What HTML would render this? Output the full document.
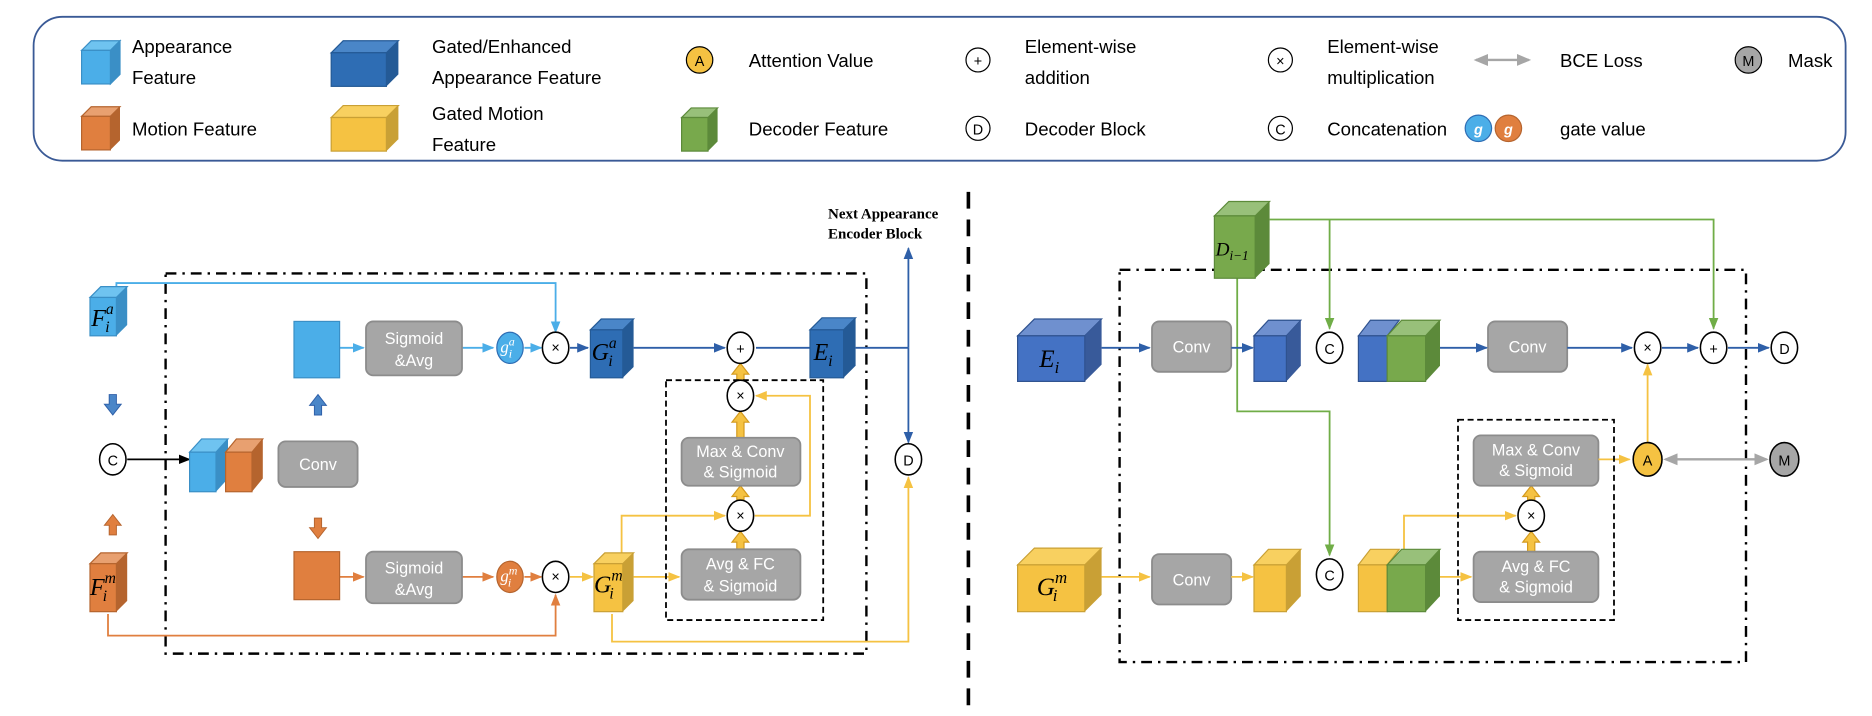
<!DOCTYPE html>
<html><head><meta charset="utf-8"><style>
html,body{margin:0;padding:0;background:#fff;}
svg{display:block;}
text{font-family:"Liberation Sans Narrow","Liberation Sans",sans-serif;}
.lg{font-size:15.5px;fill:#000;}
.bx{font-size:13.5px;fill:#fff;text-anchor:middle;}
.m{font-family:"Liberation Serif",serif;font-style:italic;fill:#000;}
.op{font-size:12px;text-anchor:middle;fill:#000;}
</style></head><body>
<svg width="1872" height="716" viewBox="0 0 1560 597" preserveAspectRatio="none" xmlns="http://www.w3.org/2000/svg">
<defs>
<marker id="ab" markerWidth="10" markerHeight="10" refX="9" refY="5" orient="auto" markerUnits="userSpaceOnUse"><path d="M0,1 L10,5 L0,9z" fill="#2e5fa8"/></marker>
<marker id="alb" markerWidth="10" markerHeight="10" refX="9" refY="5" orient="auto" markerUnits="userSpaceOnUse"><path d="M0,1 L10,5 L0,9z" fill="#4baee8"/></marker>
<marker id="ao" markerWidth="10" markerHeight="10" refX="9" refY="5" orient="auto" markerUnits="userSpaceOnUse"><path d="M0,1 L10,5 L0,9z" fill="#e07f3f"/></marker>
<marker id="ay" markerWidth="10" markerHeight="10" refX="9" refY="5" orient="auto" markerUnits="userSpaceOnUse"><path d="M0,1 L10,5 L0,9z" fill="#f5c242"/></marker>
<marker id="ag" markerWidth="10" markerHeight="10" refX="9" refY="5" orient="auto" markerUnits="userSpaceOnUse"><path d="M0,1 L10,5 L0,9z" fill="#70ad47"/></marker>
<marker id="ak" markerWidth="10" markerHeight="10" refX="9" refY="5" orient="auto" markerUnits="userSpaceOnUse"><path d="M0,1 L10,5 L0,9z" fill="#000"/></marker>
<marker id="agr" markerWidth="12" markerHeight="12" refX="10" refY="6" orient="auto-start-reverse" markerUnits="userSpaceOnUse"><path d="M0,1 L12,6 L0,11z" fill="#a6a6a6"/></marker>
</defs>

<!-- Legend -->
<rect x="28" y="14" width="1510" height="120" rx="24" fill="#fff" stroke="#3a5a96" stroke-width="1.5"/>
<g stroke-width="1">
<polygon points="68,42 76,34 100,34 92,42" fill="#6fc3f0" stroke="#3a8fc6"/><polygon points="92,42 100,34 100,62 92,70" fill="#3a8fc6" stroke="#3a8fc6"/><rect x="68" y="42" width="24" height="28" fill="#4baee8" stroke="#3a8fc6"/>
<polygon points="276,44 286,34 332,34 322,44" fill="#4a86c8" stroke="#245a96"/><polygon points="322,44 332,34 332,62 322,72" fill="#245a96"/><rect x="276" y="44" width="46" height="28" fill="#2e6db4" stroke="#245a96"/>
<polygon points="68,97 76,89 100,89 92,97" fill="#e8a070" stroke="#b5642e"/><polygon points="92,97 100,89 100,117 92,125" fill="#b5642e"/><rect x="68" y="97" width="24" height="28" fill="#e07f3f" stroke="#b5642e"/>
<polygon points="276,98 286,88 332,88 322,98" fill="#f8d060" stroke="#c9a035"/><polygon points="322,98 332,88 332,116 322,126" fill="#c9a035"/><rect x="276" y="98" width="46" height="28" fill="#f5c242" stroke="#c9a035"/>
<polygon points="568,98 576,90 598,90 590,98" fill="#98c07a" stroke="#5c8a3a"/><polygon points="590,98 598,90 598,118 590,126" fill="#5c8a3a"/><rect x="568" y="98" width="22" height="28" fill="#78a94c" stroke="#5c8a3a"/>
</g>
<text class="lg" x="110" y="44">Appearance</text><text class="lg" x="110" y="70">Feature</text>
<text class="lg" x="360" y="44">Gated/Enhanced</text><text class="lg" x="360" y="70">Appearance Feature</text>
<text class="lg" x="110" y="113">Motion Feature</text>
<text class="lg" x="360" y="100">Gated Motion</text><text class="lg" x="360" y="126">Feature</text>
<circle cx="583" cy="50" r="11" fill="#f5c242" stroke="#000"/><text class="op" x="583" y="55">A</text>
<text class="lg" x="624" y="56">Attention Value</text>
<text class="lg" x="624" y="113">Decoder  Feature</text>
<circle cx="815" cy="50" r="10" fill="#fff" stroke="#000"/><text class="op" x="815" y="55">+</text>
<text class="lg" x="854" y="44">Element-wise</text><text class="lg" x="854" y="70">addition</text>
<circle cx="815" cy="107" r="10" fill="#fff" stroke="#000"/><text class="op" x="815" y="112">D</text>
<text class="lg" x="854" y="113">Decoder  Block</text>
<circle cx="1067" cy="50" r="10" fill="#fff" stroke="#000"/><text class="op" x="1067" y="55">×</text>
<text class="lg" x="1106" y="44">Element-wise</text><text class="lg" x="1106" y="70">multiplication</text>
<circle cx="1067" cy="107" r="10" fill="#fff" stroke="#000"/><text class="op" x="1067" y="112">C</text>
<text class="lg" x="1106" y="113">Concatenation</text>
<line x1="1230" y1="50" x2="1274" y2="50" stroke="#a6a6a6" stroke-width="2" marker-start="url(#agr)" marker-end="url(#agr)"/>
<text class="lg" x="1300" y="56">BCE Loss</text>
<circle cx="1457" cy="50" r="11" fill="#a6a6a6" stroke="#000"/><text class="op" x="1457" y="55">M</text>
<text class="lg" x="1490" y="56">Mask</text>
<circle cx="1232" cy="107" r="11" fill="#4baee8" stroke="#2e6db4"/><text x="1232" y="112" class="op" style="fill:#fff;font-style:italic;font-weight:bold">g</text>
<circle cx="1257" cy="107" r="11" fill="#e07f3f" stroke="#b5642e"/><text x="1257" y="112" class="op" style="fill:#fff;font-style:italic;font-weight:bold">g</text>
<text class="lg" x="1300" y="113">gate value</text>

<line x1="807" y1="160" x2="807" y2="597" stroke="#000" stroke-width="3" stroke-dasharray="14,9"/>

<!-- LEFT -->
<rect x="138" y="228" width="584" height="317" fill="none" stroke="#000" stroke-width="2" stroke-dasharray="9,5,2,5"/>
<text x="690" y="182" style="font-family:'Liberation Serif',serif;font-weight:bold;font-size:12.5px">Next Appearance</text>
<text x="690" y="199" style="font-family:'Liberation Serif',serif;font-weight:bold;font-size:12.5px">Encoder Block</text>

<polyline points="97,240 97,236 463,236 463,277" fill="none" stroke="#4baee8" stroke-width="1.5" marker-end="url(#alb)"/>
<polyline points="90,512 90,530 463,530 463,496" fill="none" stroke="#e07f3f" stroke-width="1.5" marker-end="url(#ao)"/>
<polyline points="510,512 510,535 757,535 757,398" fill="none" stroke="#f5c242" stroke-width="1.5" marker-end="url(#ay)"/>
<line x1="713" y1="290" x2="757" y2="290" stroke="#2e5fa8" stroke-width="1.5"/>
<line x1="757" y1="290" x2="757" y2="207" stroke="#2e5fa8" stroke-width="1.5" marker-end="url(#ab)"/>
<line x1="757" y1="290" x2="757" y2="369" stroke="#2e5fa8" stroke-width="1.5" marker-end="url(#ab)"/>
<line x1="528" y1="290" x2="604" y2="290" stroke="#2e5fa8" stroke-width="1.5" marker-end="url(#ab)"/>
<line x1="630" y1="290" x2="675" y2="290" stroke="#2e5fa8" stroke-width="1.5"/>
<line x1="475" y1="290" x2="490" y2="290" stroke="#2e5fa8" stroke-width="1.5" marker-end="url(#ab)"/>
<line x1="283" y1="290" x2="303" y2="290" stroke="#4baee8" stroke-width="1.5" marker-end="url(#alb)"/>
<line x1="385" y1="290" x2="411" y2="290" stroke="#4baee8" stroke-width="1.5" marker-end="url(#alb)"/>
<line x1="437" y1="290" x2="451" y2="290" stroke="#4baee8" stroke-width="1.5" marker-end="url(#alb)"/>
<line x1="283" y1="481" x2="303" y2="481" stroke="#e07f3f" stroke-width="1.5" marker-end="url(#ao)"/>
<line x1="385" y1="481" x2="411" y2="481" stroke="#e07f3f" stroke-width="1.5" marker-end="url(#ao)"/>
<line x1="437" y1="481" x2="451" y2="481" stroke="#e07f3f" stroke-width="1.5" marker-end="url(#ao)"/>
<line x1="475" y1="481" x2="494" y2="481" stroke="#f5c242" stroke-width="1.5" marker-end="url(#ay)"/>
<line x1="528" y1="481" x2="566" y2="481" stroke="#f5c242" stroke-width="1.5" marker-end="url(#ay)"/>
<polyline points="518,462 518,430 604,430" fill="none" stroke="#f5c242" stroke-width="1.5" marker-end="url(#ay)"/>
<polyline points="629,430 675,430 675,330 630,330" fill="none" stroke="#f5c242" stroke-width="1.5" marker-end="url(#ay)"/>
<line x1="106" y1="383" x2="158" y2="383" stroke="#000" stroke-width="1.5" marker-end="url(#ak)"/>
<!-- thick yellow block arrows (up) -->
<g fill="#f5c242" stroke="#d49a1e" stroke-width="1">
<polygon points="614,458 614,452 610,452 617,443 624,452 620,452 620,458"/>
<polygon points="614,417 614,414 610,414 617,405 624,414 620,414 620,417"/>
<polygon points="614,365 614,352 610,352 617,343 624,352 620,352 620,365"/>
<polygon points="614,317 614,312 610,312 617,303 624,312 620,312 620,317"/>
<polygon points="1273,460 1273,452 1269,452 1276,443 1283,452 1279,452 1279,460"/>
<polygon points="1273,417 1273,414 1269,414 1276,405 1283,414 1279,414 1279,417"/>
</g>
<!-- small block arrows -->
<polygon points="91,329 97,329 97,337 101,337 94,346 87,337 91,337" fill="#4a86c8" stroke="#2e5fa8" stroke-width="0.8"/>
<polygon points="262,346 268,346 268,338 272,338 265,329 258,338 262,338" fill="#4a86c8" stroke="#2e5fa8" stroke-width="0.8"/>
<polygon points="91,446 97,446 97,438 101,438 94,429 87,438 91,438" fill="#e07f3f" stroke="#b5642e" stroke-width="0.8"/>
<polygon points="262,432 268,432 268,440 272,440 265,449 258,440 262,440" fill="#e07f3f" stroke="#b5642e" stroke-width="0.8"/>
<rect x="555" y="317" width="131" height="200" fill="none" stroke="#000" stroke-width="1.5" stroke-dasharray="5,3"/>

<g fill="#a6a6a6" stroke="#8c8c8c" stroke-width="1.5">
<rect x="305" y="268" width="80" height="45" rx="6"/><rect x="305" y="460" width="80" height="43" rx="6"/>
<rect x="232" y="368" width="66" height="38" rx="6"/>
<rect x="568" y="365" width="99" height="40" rx="6"/><rect x="568" y="458" width="99" height="42" rx="6"/>
<rect x="960" y="268" width="66" height="42" rx="6"/><rect x="1240" y="268" width="66" height="42" rx="6"/>
<rect x="960" y="462" width="66" height="42" rx="6"/>
<rect x="1228" y="363" width="104" height="42" rx="6"/><rect x="1228" y="460" width="104" height="42" rx="6"/>
</g>
<text class="bx" x="345" y="287">Sigmoid</text><text class="bx" x="345" y="305">&amp;Avg</text>
<text class="bx" x="345" y="478">Sigmoid</text><text class="bx" x="345" y="496">&amp;Avg</text>
<text class="bx" x="265" y="392">Conv</text>
<text class="bx" x="617" y="381">Max &amp; Conv</text><text class="bx" x="617" y="398">&amp; Sigmoid</text>
<text class="bx" x="617" y="475">Avg &amp; FC</text><text class="bx" x="617" y="493">&amp; Sigmoid</text>
<text class="bx" x="993" y="294">Conv</text><text class="bx" x="1273" y="294">Conv</text><text class="bx" x="993" y="488">Conv</text>
<text class="bx" x="1280" y="380">Max &amp; Conv</text><text class="bx" x="1280" y="397">&amp; Sigmoid</text>
<text class="bx" x="1280" y="477">Avg &amp; FC</text><text class="bx" x="1280" y="494">&amp; Sigmoid</text>

<rect x="245" y="268" width="38" height="47" fill="#4baee8" stroke="#3a8fc6"/>
<rect x="245" y="460" width="38" height="40" fill="#e07f3f" stroke="#b5642e"/>

<polygon points="75,248 84,239 106,239 97,248" fill="#6fc3f0" stroke="#3a8fc6"/><polygon points="97,248 106,239 106,271 97,280" fill="#3a8fc6"/><rect x="75" y="248" width="22" height="32" fill="#4baee8" stroke="#3a8fc6"/>
<text class="m" x="76" y="272" font-size="20">F<tspan font-size="13" dy="-10">a</tspan><tspan font-size="13" dx="-7" dy="15">i</tspan></text>
<polygon points="75,470 84,461 106,461 97,470" fill="#e8a070" stroke="#b5642e"/><polygon points="97,470 106,461 106,501 97,510" fill="#b5642e"/><rect x="75" y="470" width="22" height="40" fill="#e07f3f" stroke="#b5642e"/>
<text class="m" x="75" y="496" font-size="20">F<tspan font-size="13" dy="-10">m</tspan><tspan font-size="13" dx="-11" dy="15">i</tspan></text>
<polygon points="158,377 168,366 190,366 180,377" fill="#6fc3f0" stroke="#3a8fc6"/><polygon points="180,377 190,366 190,399 180,410" fill="#3a8fc6"/><rect x="158" y="377" width="22" height="33" fill="#4baee8" stroke="#3a8fc6"/>
<polygon points="188,377 197,366 219,366 210,377" fill="#e8a070" stroke="#b5642e"/><polygon points="210,377 219,366 219,399 210,410" fill="#b5642e"/><rect x="188" y="377" width="22" height="33" fill="#e07f3f" stroke="#b5642e"/>
<polygon points="492,275 501,266 528,266 519,275" fill="#4a86c8" stroke="#245a96"/><polygon points="519,275 528,266 528,306 519,315" fill="#245a96"/><rect x="492" y="275" width="27" height="40" fill="#2e6db4" stroke="#245a96"/>
<text class="m" x="493" y="300" font-size="20">G<tspan font-size="13" dy="-10">a</tspan><tspan font-size="13" dx="-7" dy="15">i</tspan></text>
<polygon points="675,275 685,265 713,265 703,275" fill="#4a86c8" stroke="#245a96"/><polygon points="703,275 713,265 713,305 703,315" fill="#245a96"/><rect x="675" y="275" width="28" height="40" fill="#2e6db4" stroke="#245a96"/>
<text class="m" x="678" y="300" font-size="20">E<tspan font-size="13" dy="5">i</tspan></text>
<polygon points="495,470 504,461 528,461 519,470" fill="#f8d060" stroke="#c9a035"/><polygon points="519,470 528,461 528,501 519,510" fill="#c9a035"/><rect x="495" y="470" width="24" height="40" fill="#f5c242" stroke="#c9a035"/>
<text class="m" x="495" y="494" font-size="20">G<tspan font-size="13" dy="-10">m</tspan><tspan font-size="13" dx="-11" dy="15">i</tspan></text>

<ellipse cx="425" cy="290" rx="11" ry="13" fill="#4baee8" stroke="#2e6db4"/><text class="m" x="417" y="294" font-size="14" style="fill:#fff">g<tspan font-size="10" dy="-6">a</tspan><tspan font-size="10" dx="-5" dy="10">i</tspan></text>
<ellipse cx="425" cy="481" rx="11" ry="13" fill="#e07f3f" stroke="#b5642e"/><text class="m" x="417" y="485" font-size="14" style="fill:#fff">g<tspan font-size="10" dy="-6">m</tspan><tspan font-size="10" dx="-8" dy="10">i</tspan></text>

<g fill="#fff" stroke="#000" stroke-width="1.3">
<ellipse cx="463" cy="290" rx="11" ry="13"/><ellipse cx="463" cy="481" rx="11" ry="13"/>
<ellipse cx="617" cy="290" rx="11" ry="13"/><ellipse cx="617" cy="330" rx="11" ry="13"/><ellipse cx="617" cy="430" rx="11" ry="13"/>
<ellipse cx="94" cy="383" rx="11" ry="13"/><ellipse cx="757" cy="383" rx="11" ry="13"/>
</g>
<text class="op" x="463" y="294">×</text><text class="op" x="463" y="485">×</text>
<text class="op" x="617" y="295">+</text><text class="op" x="617" y="334">×</text><text class="op" x="617" y="434">×</text>
<text class="op" x="94" y="388">C</text><text class="op" x="757" y="388">D</text>

<!-- RIGHT -->
<rect x="933" y="225" width="522" height="327" fill="none" stroke="#000" stroke-width="2" stroke-dasharray="9,5,2,5"/>
<polyline points="1058,183 1428,183 1428,274" fill="none" stroke="#70ad47" stroke-width="1.5" marker-end="url(#ag)"/>
<polyline points="1108,183 1108,274" fill="none" stroke="#70ad47" stroke-width="1.5" marker-end="url(#ag)"/>
<polyline points="1031,232 1031,343 1108,343 1108,463" fill="none" stroke="#70ad47" stroke-width="1.5" marker-end="url(#ag)"/>
<g stroke="#2e5fa8" stroke-width="1.5" marker-end="url(#ab)">
<line x1="918" y1="290" x2="958" y2="290"/><line x1="1026" y1="290" x2="1044" y2="290"/>
<line x1="1200" y1="290" x2="1239" y2="290"/><line x1="1306" y1="290" x2="1360" y2="290"/>
<line x1="1385" y1="290" x2="1415" y2="290"/><line x1="1440" y1="290" x2="1474" y2="290"/>
</g>
<g stroke="#f5c242" stroke-width="1.5" marker-end="url(#ay)" fill="none">
<line x1="918" y1="481" x2="958" y2="481"/><line x1="1026" y1="481" x2="1044" y2="481"/>
<line x1="1200" y1="481" x2="1226" y2="481"/>
<polyline points="1170,460 1170,430 1263,430"/>
<line x1="1332" y1="383" x2="1358" y2="383"/>
<line x1="1373" y1="369" x2="1373" y2="304"/>
</g>
<line x1="1388" y1="383" x2="1472" y2="383" stroke="#a6a6a6" stroke-width="2" marker-start="url(#agr)" marker-end="url(#agr)"/>
<rect x="1215" y="350" width="130" height="167" fill="none" stroke="#000" stroke-width="1.5" stroke-dasharray="5,3"/>

<polygon points="1012,180 1024,168 1058,168 1046,180" fill="#98c07a" stroke="#5c8a3a"/><polygon points="1046,180 1058,168 1058,220 1046,232" fill="#5c8a3a"/><rect x="1012" y="180" width="34" height="52" fill="#78a94c" stroke="#5c8a3a"/>
<text class="m" x="1013" y="213" font-size="16">D<tspan font-size="11" dy="4">i−1</tspan></text>
<polygon points="848,280 862,266 918,266 904,280" fill="#6f90cf" stroke="#2f528f"/><polygon points="904,280 918,266 918,304 904,318" fill="#385a9a"/><rect x="848" y="280" width="56" height="38" fill="#4472c4" stroke="#2f528f"/>
<text class="m" x="866" y="306" font-size="21">E<tspan font-size="14" dy="5">i</tspan></text>
<polygon points="848,471 862,457 918,457 904,471" fill="#f8d060" stroke="#c9a035"/><polygon points="904,471 918,457 918,496 904,510" fill="#c9a035"/><rect x="848" y="471" width="56" height="39" fill="#f5c242" stroke="#c9a035"/>
<text class="m" x="864" y="496" font-size="21">G<tspan font-size="14" dy="-10">m</tspan><tspan font-size="14" dx="-12" dy="15">i</tspan></text>
<polygon points="1045,280 1057,267 1084,267 1072,280" fill="#6f90cf" stroke="#2f528f"/><polygon points="1072,280 1084,267 1084,305 1072,318" fill="#385a9a"/><rect x="1045" y="280" width="27" height="38" fill="#4472c4" stroke="#2f528f"/>
<polygon points="1045,471 1057,458 1084,458 1072,471" fill="#f8d060" stroke="#c9a035"/><polygon points="1072,471 1084,458 1084,497 1072,510" fill="#c9a035"/><rect x="1045" y="471" width="27" height="39" fill="#f5c242" stroke="#c9a035"/>
<polygon points="1132,280 1142,267 1166,267 1156,280" fill="#6f90cf" stroke="#2f528f"/><rect x="1132" y="280" width="24" height="38" fill="#4472c4" stroke="#2f528f"/>
<polygon points="1156,280 1168,267 1200,267 1188,280" fill="#98c07a" stroke="#5c8a3a"/><polygon points="1188,280 1200,267 1200,305 1188,318" fill="#5c8a3a"/><rect x="1156" y="280" width="32" height="38" fill="#78a94c" stroke="#5c8a3a"/>
<polygon points="1132,471 1142,458 1166,458 1156,471" fill="#f8d060" stroke="#c9a035"/><rect x="1132" y="471" width="24" height="39" fill="#f5c242" stroke="#c9a035"/>
<polygon points="1156,471 1168,458 1200,458 1188,471" fill="#98c07a" stroke="#5c8a3a"/><polygon points="1188,471 1200,458 1200,497 1188,510" fill="#5c8a3a"/><rect x="1156" y="471" width="32" height="39" fill="#78a94c" stroke="#5c8a3a"/>

<g fill="#fff" stroke="#000" stroke-width="1.3">
<ellipse cx="1108" cy="290" rx="11" ry="13"/><ellipse cx="1108" cy="479" rx="11" ry="13"/>
<ellipse cx="1373" cy="290" rx="11" ry="13"/><ellipse cx="1428" cy="290" rx="11" ry="13"/><ellipse cx="1487" cy="290" rx="11" ry="13"/>
<ellipse cx="1276" cy="430" rx="11" ry="13"/>
</g>
<ellipse cx="1373" cy="383" rx="12" ry="14" fill="#f5c242" stroke="#000" stroke-width="1.3"/>
<ellipse cx="1487" cy="383" rx="12" ry="14" fill="#a6a6a6" stroke="#000" stroke-width="1.3"/>
<text class="op" x="1108" y="295">C</text><text class="op" x="1108" y="484">C</text>
<text class="op" x="1373" y="294">×</text><text class="op" x="1428" y="295">+</text><text class="op" x="1487" y="295">D</text>
<text class="op" x="1276" y="434">×</text><text class="op" x="1373" y="388">A</text><text class="op" x="1487" y="388">M</text>
</svg>
</body></html>
